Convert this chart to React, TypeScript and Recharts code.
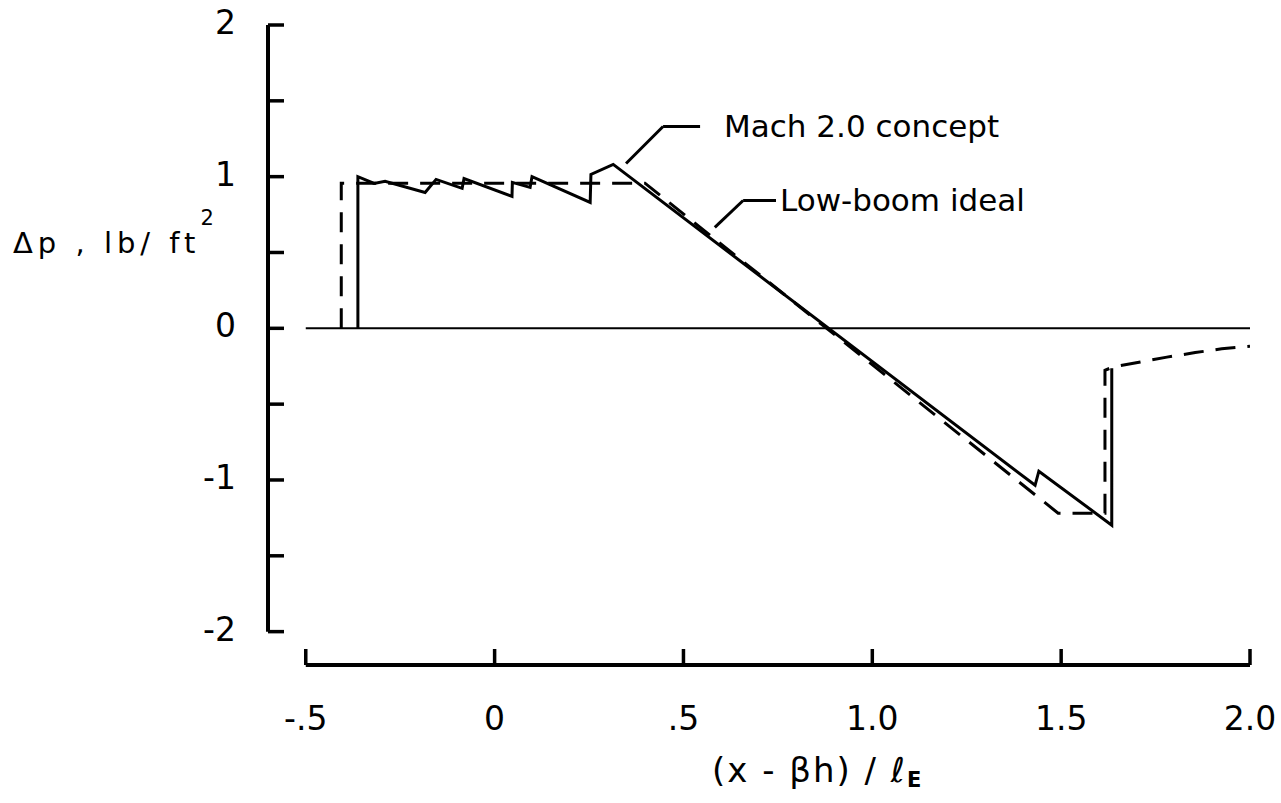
import { LineChart, Line, XAxis, YAxis, ReferenceLine } from "recharts";

// Mach 2.0 concept (solid)
const conceptX = [
  -0.362, -0.362, -0.319, -0.29, -0.184, -0.155, -0.086, -0.081, 0.046, 0.047,
  0.094, 0.099, 0.253, 0.255, 0.314, 1.431, 1.441, 1.634, 1.634,
];
const conceptDp = [
  0, 1.0, 0.955, 0.969, 0.896, 0.982, 0.923, 0.988, 0.87, 0.962, 0.929, 1.0,
  0.83, 1.015, 1.081, -1.035, -0.942, -1.298, -0.264,
];

// Low-boom ideal (dashed)
const idealX = [-0.406, -0.406, 0.398, 1.492, 1.616, 1.616, 1.637, 1.71, 1.78, 1.855, 1.925, 2.0];
const idealDp = [0, 0.957, 0.957, -1.219, -1.219, -0.277, -0.255, -0.222, -0.19, -0.16, -0.135, -0.118];

const xTicks = [-0.5, 0, 0.5, 1, 1.5, 2];
const xTickLabels = ["-.5", "0", ".5", "1.0", "1.5", "2.0"];
const yTicks = [-2, -1.5, -1, -0.5, 0, 0.5, 1, 1.5, 2];
const yTickLabels = ["-2", "", "-1", "", "0", "", "1", "", "2"];

const X_MIN = -0.6;
const X_MAX = 2.0;
const Y_MIN = -2.22;
const Y_MAX = 2.0;

const FONT = "DejaVu Sans";

const concept = conceptX.map((x, i) => ({ x, dp: conceptDp[i] }));
const ideal = idealX.map((x, i) => ({ x, dp: idealDp[i] }));

const XTick = (props: any) => {
  const { x, y, payload } = props;
  const label = xTickLabels[xTicks.indexOf(payload.value)];
  return (
    <g>
      <line x1={x} x2={x} y1={y} y2={y - 16} stroke="#000" strokeWidth={3.5} />
      <text x={x} y={y + 65} textAnchor="middle" fontFamily={FONT} fontSize={33} fill="#000">
        {label}
      </text>
    </g>
  );
};

const YTick = (props: any) => {
  const { x, y, payload } = props;
  const label = yTickLabels[yTicks.indexOf(payload.value)];
  return (
    <g>
      <line x1={x} x2={x + 16} y1={y} y2={y} stroke="#000" strokeWidth={3.5} />
      {label && (
        <text x={x - 32} y={y + 9} textAnchor="end" fontFamily={FONT} fontSize={33} fill="#000">
          {label}
        </text>
      )}
    </g>
  );
};

const YTitle = () => (
  <text x={13} y={253} fontFamily={FONT} fontSize={29} letterSpacing={5} fill="#000">
    Δp , lb/ ft
    <tspan dx={0} dy={-28} fontSize={21}>
      2
    </tspan>
  </text>
);

const XTitle = () => (
  <text x={712} y={782} fontFamily={FONT} fontSize={34} letterSpacing={2} fill="#000">
    (x - βh) / ℓ
    <tspan dy={5} fontSize={21} fontWeight="bold">
      E
    </tspan>
  </text>
);

export default function App() {
  return (
    <div style={{ position: "absolute", left: 0, top: 0, background: "#fff" }}>
      <LineChart width={1281} height={803} margin={{ top: 25, right: 31, bottom: 58, left: 208 }}>
        <XAxis
          dataKey="x"
          type="number"
          domain={[X_MIN, X_MAX]}
          allowDataOverflow
          ticks={xTicks}
          interval={0}
          height={80}
          tickSize={0}
          tickMargin={0}
          axisLine={false}
          tickLine={false}
          tick={XTick}
          label={<XTitle />}
        />
        <YAxis
          type="number"
          domain={[Y_MIN, Y_MAX]}
          allowDataOverflow
          ticks={yTicks}
          interval={0}
          width={60}
          tickSize={0}
          tickMargin={0}
          axisLine={false}
          tickLine={false}
          tick={YTick}
          label={<YTitle />}
        />

        {/* axis lines */}
        <ReferenceLine
          segment={[{ x: X_MIN, y: -2 }, { x: X_MIN, y: 2 }]}
          stroke="#000"
          strokeWidth={4}
        />
        <ReferenceLine
          segment={[{ x: -0.5, y: Y_MIN }, { x: 2, y: Y_MIN }]}
          stroke="#000"
          strokeWidth={4}
        />
        <ReferenceLine
          segment={[{ x: -0.5, y: 0 }, { x: 2, y: 0 }]}
          stroke="#000"
          strokeWidth={2}
        />

        {/* leaders */}
        <ReferenceLine
          segment={[{ x: 0.348, y: 1.087 }, { x: 0.446, y: 1.331 }]}
          stroke="#000"
          strokeWidth={3}
        />
        <ReferenceLine
          segment={[{ x: 0.446, y: 1.331 }, { x: 0.544, y: 1.331 }]}
          stroke="#000"
          strokeWidth={3}
          label={{
            value: "Mach 2.0 concept",
            position: "right",
            offset: 24,
            fill: "#000",
            fontSize: 31,
            fontFamily: FONT,
          }}
        />
        <ReferenceLine
          segment={[{ x: 0.583, y: 0.666 }, { x: 0.658, y: 0.843 }]}
          stroke="#000"
          strokeWidth={3}
        />
        <ReferenceLine
          segment={[{ x: 0.658, y: 0.843 }, { x: 0.745, y: 0.843 }]}
          stroke="#000"
          strokeWidth={3}
          label={{
            value: "Low-boom ideal",
            position: "right",
            offset: 4,
            fill: "#000",
            fontSize: 31,
            fontFamily: FONT,
          }}
        />

        <Line
          data={ideal}
          dataKey="dp"
          type="linear"
          stroke="#000"
          strokeWidth={3}
          strokeDasharray="20 12"
          dot={false}
          isAnimationActive={false}
        />
        <Line
          data={concept}
          dataKey="dp"
          type="linear"
          stroke="#000"
          strokeWidth={3}
          dot={false}
          isAnimationActive={false}
        />
      </LineChart>
    </div>
  );
}
